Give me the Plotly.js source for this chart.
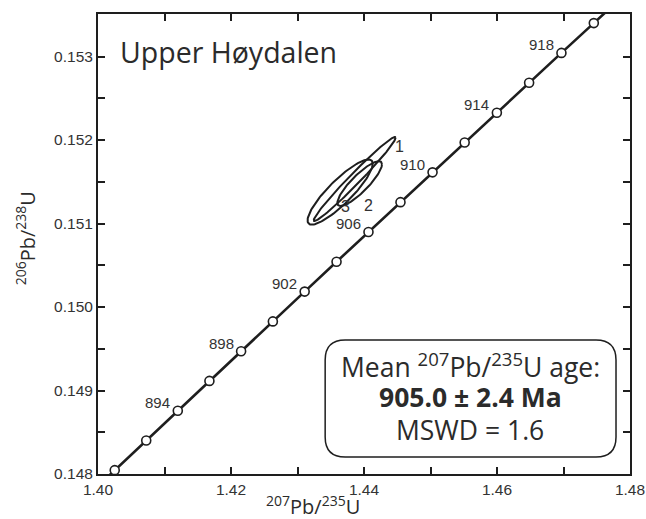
<!DOCTYPE html>
<html>
<head>
<meta charset="utf-8">
<script src="https://cdn.plot.ly/plotly-3.0.1.min.js"></script>
<style>html,body{margin:0;padding:0;background:#fff;}#chart{width:646px;height:519px;}</style>
</head>
<body>
<div id="chart"></div>
<script>
// Concordia reference points (Ma) and ratios
const ages = [888, 890, 892, 894, 896, 898, 900, 902, 904, 906, 908, 910, 912, 914, 916, 918, 920, 922];
const pb207u235 = [1.397788, 1.402516, 1.407253, 1.411999, 1.416755, 1.421520, 1.426294, 1.431078, 1.435871, 1.440674, 1.445486, 1.450308, 1.455139, 1.459980, 1.464830, 1.469690, 1.474559, 1.479438];
const pb206u238 = [0.147690, 0.148046, 0.148402, 0.148758, 0.149115, 0.149471, 0.149828, 0.150185, 0.150542, 0.150899, 0.151256, 0.151613, 0.151970, 0.152328, 0.152686, 0.153044, 0.153401, 0.153759];
const markerAges = [890, 892, 894, 896, 898, 900, 902, 904, 906, 908, 910, 912, 914, 916, 918, 920];
const labelAges = [894, 898, 902, 906, 910, 914, 918];

// Analyses: 207Pb/235U, 2s, 206Pb/238U, 2s, rho
const analysisLabels = ["1", "2", "3"];
const anX = [1.43859, 1.43935, 1.43641];
const anSX = [0.00616, 0.00335, 0.00490];
const anY = [0.151533, 0.151479, 0.151377];
const anSY = [0.000503, 0.000268, 0.000390];
const anRho = [0.983, 0.86, 0.87];

const xTicks = [1.40, 1.42, 1.44, 1.46, 1.48];
const yTicks = [0.148, 0.149, 0.150, 0.151, 0.152, 0.153];

const ink = '#1e1e1e';
const traces = [];
traces.push({x: pb207u235, y: pb206u238, mode: 'lines', line: {color: ink, width: 2.6}, hoverinfo: 'skip', showlegend: false});
const mIdx = markerAges.map(a => ages.indexOf(a));
traces.push({x: mIdx.map(i => pb207u235[i]), y: mIdx.map(i => pb206u238[i]), mode: 'markers',
  marker: {symbol: 'circle', size: 9, color: '#fff', line: {color: ink, width: 1.6}}, showlegend: false, cliponaxis: false});

for (let k = 0; k < anX.length; k++) {
  const xs = [], ys = [];
  const r = anRho[k];
  for (let j = 0; j <= 120; j++) {
    const th = 2 * Math.PI * j / 120;
    xs.push(anX[k] + anSX[k] * Math.cos(th));
    ys.push(anY[k] + anSY[k] * (r * Math.cos(th) + Math.sqrt(1 - r * r) * Math.sin(th)));
  }
  traces.push({x: xs, y: ys, mode: 'lines', line: {color: ink, width: 2}, showlegend: false, hoverinfo: 'skip'});
}

const annotations = [];
labelAges.forEach(a => {
  const i = ages.indexOf(a);
  annotations.push({x: pb207u235[i], y: pb206u238[i], xref: 'x', yref: 'y', text: String(a), showarrow: false,
    xshift: -20, yshift: 8, font: {family: 'Liberation Sans, Arial', size: 15, color: '#333'}});
});
const labPos = [[1.44528, 0.151928], [1.44062, 0.151222], [1.43717, 0.151210]];
analysisLabels.forEach((t, k) => {
  annotations.push({x: labPos[k][0], y: labPos[k][1], xref: 'x', yref: 'y', text: t, showarrow: false,
    font: {family: 'Liberation Sans, Arial', size: 16, color: '#333'}});
});
annotations.push({x: 0.038, y: 0.918, xref: 'paper', yref: 'paper', xanchor: 'left', yanchor: 'middle',
  text: 'Upper Høydalen', showarrow: false, font: {family: 'Open Sans', size: 28.5, color: '#2b2b2b'}});
annotations.push({x: 0.6994, y: 0.2354, xref: 'paper', yref: 'paper', xanchor: 'center', yanchor: 'middle',
  text: 'Mean <sup>207</sup>Pb/<sup>235</sup>U age:', showarrow: false, font: {family: 'Open Sans', size: 26.5, color: '#2b2b2b'}});
annotations.push({x: 0.6994, y: 0.168, xref: 'paper', yref: 'paper', xanchor: 'center', yanchor: 'middle',
  text: '<b>905.0 ± 2.4 Ma</b>', showarrow: false, font: {family: 'Open Sans', size: 26.5, color: '#2b2b2b'}});
annotations.push({x: 0.6994, y: 0.0953, xref: 'paper', yref: 'paper', xanchor: 'center', yanchor: 'middle',
  text: 'MSWD = 1.6', showarrow: false, font: {family: 'Open Sans', size: 26.5, color: '#2b2b2b'}});
annotations.push({x: 0.4045, y: -0.0695, xref: 'paper', yref: 'paper', xanchor: 'center', yanchor: 'middle',
  text: '<sup>207</sup>Pb/<sup>235</sup>U', showarrow: false, font: {family: 'Open Sans', size: 20, color: '#2b2b2b'}});
annotations.push({x: -0.1366, y: 0.513, xref: 'paper', yref: 'paper', xanchor: 'center', yanchor: 'middle', textangle: -90,
  text: '<sup>206</sup>Pb/<sup>238</sup>U', showarrow: false, font: {family: 'Open Sans', size: 20, color: '#2b2b2b'}});

// rounded box in paper coords
const bx0 = 0.427, bx1 = 0.9737, by0 = 0.037, by1 = 0.2913;
const rx = 20 / 532, ry = 20 / 460;
const boxPath = `M ${bx0 + rx} ${by1} L ${bx1 - rx} ${by1} Q ${bx1} ${by1} ${bx1} ${by1 - ry} L ${bx1} ${by0 + ry} Q ${bx1} ${by0} ${bx1 - rx} ${by0} L ${bx0 + rx} ${by0} Q ${bx0} ${by0} ${bx0} ${by0 + ry} L ${bx0} ${by1 - ry} Q ${bx0} ${by1} ${bx0 + rx} ${by1} Z`;

const axisCommon = {showgrid: false, zeroline: false, showline: true, linecolor: ink, linewidth: 2, mirror: 'ticks',
  ticks: 'inside', ticklen: 7, tickwidth: 2, tickcolor: ink, tickfont: {family: 'Liberation Sans, Arial', size: 15.5, color: '#333'}};

const layout = {
  width: 646, height: 519,
  margin: {l: 98, r: 16, t: 14, b: 45},
  paper_bgcolor: '#fff', plot_bgcolor: '#fff',
  xaxis: Object.assign({}, axisCommon, {range: [1.40, 1.48], tickvals: xTicks, ticktext: xTicks.map(v => v.toFixed(2)),
    minor: {dtick: 0.01, tick0: 1.40, ticks: 'inside', ticklen: 7, tickwidth: 2, tickcolor: ink, showgrid: false}}),
  yaxis: Object.assign({}, axisCommon, {range: [0.148, 0.15351], tickvals: yTicks, ticktext: yTicks.map(v => v.toFixed(3)),
    minor: {dtick: 0.0005, tick0: 0.148, ticks: 'inside', ticklen: 7, tickwidth: 2, tickcolor: ink, showgrid: false}}),
  shapes: [{type: 'path', xref: 'paper', yref: 'paper', path: boxPath, line: {color: ink, width: 1.5}, fillcolor: 'rgba(255,255,255,1)'}],
  annotations: annotations,
  showlegend: false
};

Plotly.newPlot('chart', traces, layout, {displayModeBar: false, staticPlot: true});
</script>
</body>
</html>
